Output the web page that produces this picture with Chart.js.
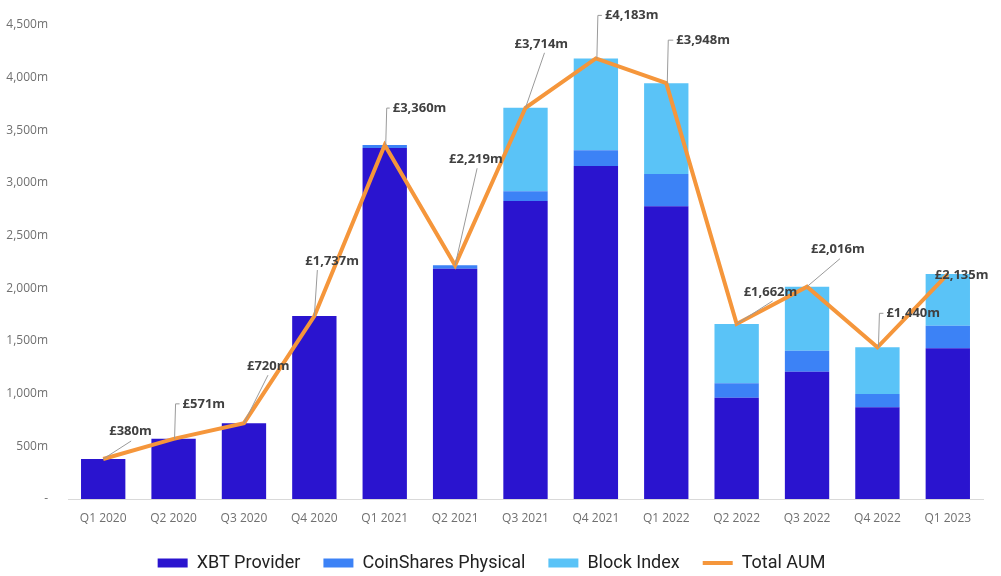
<!DOCTYPE html>
<html>
<head>
<meta charset="utf-8">
<script src="https://cdn.jsdelivr.net/npm/chart.js@4/dist/chart.umd.min.js"></script>
<style>
  html, body { margin: 0; padding: 0; background: #fff; }
  #wrap { width: 1001px; height: 576px; position: relative; }
</style>
</head>
<body>
<div id="wrap"><canvas id="aum"></canvas></div>
<script>
const quarters = ['Q1 2020', 'Q2 2020', 'Q3 2020', 'Q4 2020', 'Q1 2021', 'Q2 2021', 'Q3 2021',
                  'Q4 2021', 'Q1 2022', 'Q2 2022', 'Q3 2022', 'Q4 2022', 'Q1 2023'];
const xbtProvider = [380, 571, 720, 1737, 3333, 2185, 2830, 3162, 2780, 961, 1208, 870, 1430];
const coinsharesPhysical = [0, 0, 0, 0, 27, 34, 92, 149, 306, 139, 199, 126, 214];
const blockIndex = [0, 0, 0, 0, 0, 0, 792, 872, 862, 562, 609, 444, 491];
const totalAum = [380, 571, 720, 1737, 3360, 2219, 3714, 4183, 3948, 1662, 2016, 1440, 2135];

// label placement relative to each point: [text dx, text dy, leader end dx, leader end dy, elbow]
const labelPlacement = [
    [6, -28, 28, -18, false],
    [9, -35, 0, 0, true],
    [3, -57, 24, -48, false],
    [-9, -55, 3, -46, false],
    [8, -37, 0, 0, true],
    [-6, -106, 22, -97, false],
    [-11, -63, 19, -55, false],
    [9, -43, 0, 0, true],
    [10, -43, 0, 0, true],
    [7, -32, 36, -23, false],
    [4, -37, 33, -28, false],
    [9, -34, 0, 0, true],
    [-13, 1, null, null, false]
];

const fmt = v => v.toLocaleString('en-GB');

const aumLabels = {
    id: 'aumLabels',
    afterDatasetsDraw(chart) {
        const meta = chart.getDatasetMeta(3);
        const ctx = chart.ctx;
        ctx.save();
        ctx.strokeStyle = '#9a9a9a';
        ctx.lineWidth = 1;
        meta.data.forEach((pt, i) => {
            const [dx, dy, lx, ly, elbow] = labelPlacement[i];
            const px = pt.x, py = pt.y;
            ctx.beginPath();
            if (elbow) {
                ctx.moveTo(px + 1, py);
                ctx.lineTo(px + 2, py + dy);
                ctx.lineTo(px + dx - 3, py + dy);
                ctx.stroke();
            } else if (lx !== null) {
                ctx.moveTo(px, py);
                ctx.lineTo(px + lx, py + ly);
                ctx.stroke();
            }
        });
        ctx.fillStyle = '#404040';
        ctx.font = 'bold 13px "Open Sans"';
        ctx.textBaseline = 'middle';
        ctx.textAlign = 'left';
        meta.data.forEach((pt, i) => {
            const [dx, dy] = labelPlacement[i];
            ctx.fillText('£' + fmt(totalAum[i]) + 'm', pt.x + dx, pt.y + dy);
        });
        ctx.restore();
    }
};

new Chart(document.getElementById('aum'), {
    data: {
        labels: quarters,
        datasets: [
            { type: 'bar', label: 'XBT Provider', data: xbtProvider, backgroundColor: '#2a14cf', stack: 'aum', order: 1, pointStyle: 'rect' },
            { type: 'bar', label: 'CoinShares Physical', data: coinsharesPhysical, backgroundColor: '#3c82f6', stack: 'aum', order: 1, pointStyle: 'rect' },
            { type: 'bar', label: 'Block Index', data: blockIndex, backgroundColor: '#5ac3f7', stack: 'aum', order: 1, pointStyle: 'rect' },
            { type: 'line', label: 'Total AUM', data: totalAum, borderColor: '#f5963b', backgroundColor: '#f5963b',
              borderWidth: 4, pointRadius: 0, tension: 0, stack: 'total', order: 0, pointStyle: 'line' }
        ]
    },
    options: {
        responsive: true,
        maintainAspectRatio: false,
        animation: false,
        layout: { padding: { top: 25, right: 18, left: 0, bottom: -6 } },
        datasets: { bar: { categoryPercentage: 1, barPercentage: 0.63 } },
        scales: {
            x: {
                stacked: true,
                grid: { display: false, drawTicks: false },
                border: { color: '#d9d9d9', width: 1 },
                ticks: { color: '#707070', font: { family: 'Open Sans', size: 12 }, padding: 12 },
                afterFit: s => { s.height = 32; }
            },
            y: {
                stacked: true,
                min: 0,
                max: 4500,
                grid: { display: false },
                border: { display: false },
                ticks: {
                    stepSize: 500,
                    color: '#707070',
                    font: { family: 'Open Sans', size: 12 },
                    padding: 12,
                    callback: v => v === 0 ? '-' : fmt(v) + 'm'
                },
                afterFit: s => { s.width = 68; }
            }
        },
        plugins: {
            tooltip: { enabled: false },
            legend: {
                position: 'bottom',
                labels: {
                    usePointStyle: true,
                    pointStyleWidth: 30,
                    boxHeight: 9,
                    padding: 23,
                    color: '#222',
                    font: { family: 'Roboto', size: 18 },
                    sort: (a, b) => a.datasetIndex - b.datasetIndex
                }
            }
        }
    },
    plugins: [aumLabels]
});
</script>
</body>
</html>
